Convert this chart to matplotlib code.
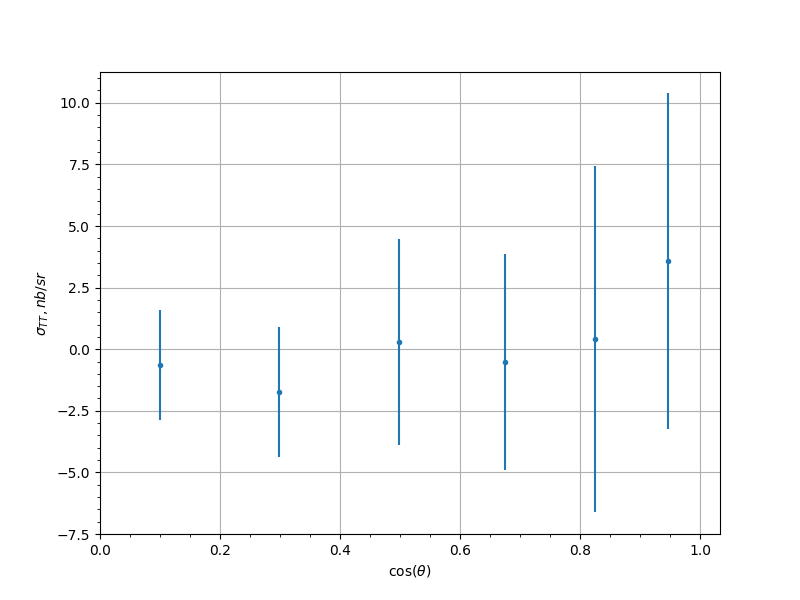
import numpy as np
import matplotlib.pyplot as plt

cos_theta = [0.1, 0.299, 0.499, 0.674, 0.824, 0.947]
sigma_tt = [-0.64, -1.74, 0.28, -0.52, 0.42, 3.57]
sigma_err = [2.25, 2.64, 4.18, 4.37, 7.03, 6.82]

fig, ax = plt.subplots(figsize=(8, 6), dpi=100)
ax.errorbar(cos_theta, sigma_tt, yerr=sigma_err, fmt='.')
ax.set_xlabel(r'$\cos(\theta)$')
ax.set_ylabel(r'$\sigma_{TT}, nb/sr$')
ax.set_xlim(0, 1.033)
ax.set_ylim(-7.5, 11.25)
ax.minorticks_on()
ax.grid(True, which='major')
fig.savefig('out.png')
